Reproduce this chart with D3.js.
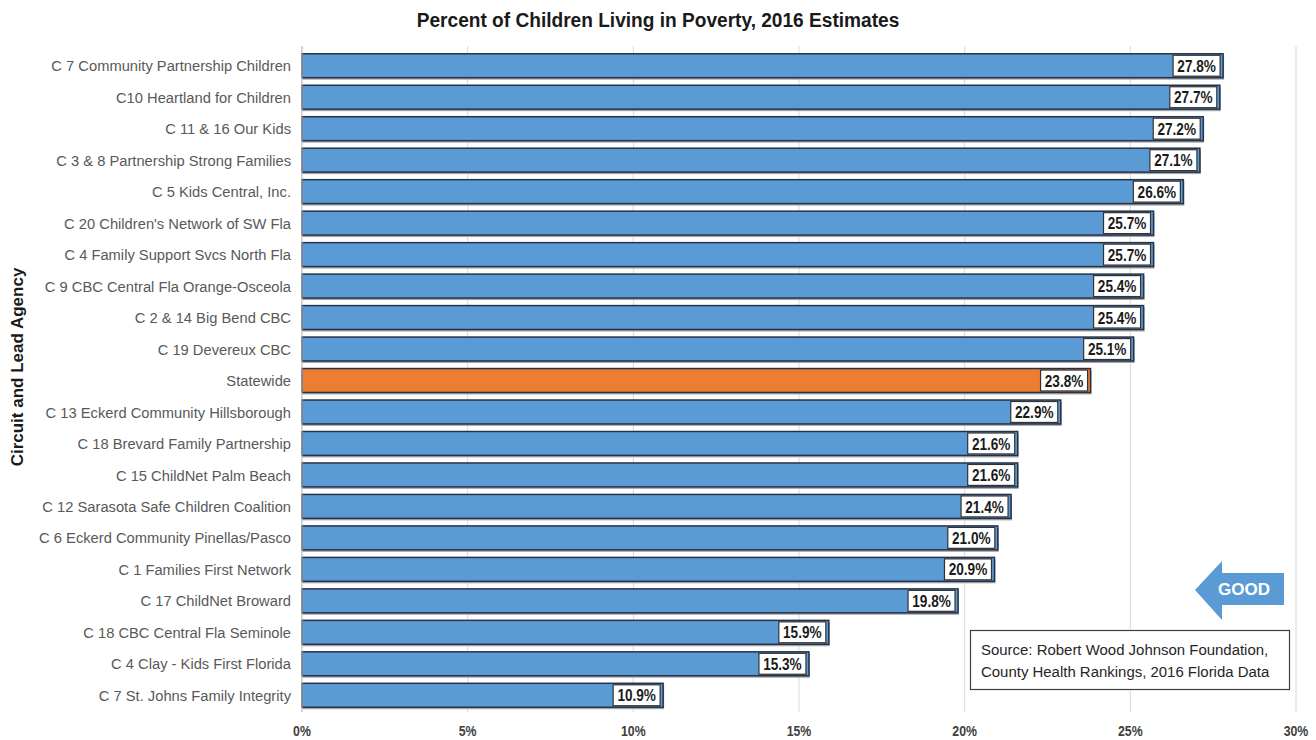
<!DOCTYPE html>
<html><head><meta charset="utf-8">
<script src="https://cdn.jsdelivr.net/npm/d3@7"></script>
<style>
body{margin:0;background:#fff;}
svg text{font-family:"Liberation Sans Narrow","Arial Narrow","Liberation Sans",Arial,sans-serif;}
</style></head>
<body><svg id="c" width="1316" height="740"></svg>
<script>
const categories = [
"C 7 Community Partnership Children","C10 Heartland for Children","C 11 & 16 Our Kids",
"C 3 & 8 Partnership Strong Families","C 5 Kids Central, Inc.","C 20 Children's Network of SW Fla",
"C 4 Family Support Svcs North Fla","C 9 CBC Central Fla Orange-Osceola","C 2 & 14 Big Bend CBC",
"C 19 Devereux CBC","Statewide","C 13 Eckerd Community Hillsborough","C 18 Brevard Family Partnership",
"C 15 ChildNet Palm Beach","C 12 Sarasota Safe Children Coalition","C 6 Eckerd Community Pinellas/Pasco",
"C 1 Families First Network","C 17 ChildNet Broward","C 18 CBC Central Fla Seminole",
"C 4 Clay - Kids First Florida","C 7 St. Johns Family Integrity"];
const values = [27.8,27.7,27.2,27.1,26.6,25.7,25.7,25.4,25.4,25.1,23.8,22.9,21.6,21.6,21.4,21.0,20.9,19.8,15.9,15.3,10.9];
const tickValues = [0,5,10,15,20,25,30];
const title = "Percent of Children Living in Poverty, 2016 Estimates";
const yTitle = "Circuit and Lead Agency";
const sourceLines = ["Source: Robert Wood Johnson Foundation,","County Health Rankings, 2016 Florida Data"];
const highlight = "Statewide";

const svg = d3.select("#c");
const x = d3.scaleLinear().domain([0,30]).range([302,1296]);
const y = d3.scaleBand().domain(categories).range([50,711]).paddingInner(0.24).paddingOuter(0.12);

svg.append("g").selectAll("line").data(tickValues).join("line")
  .attr("x1",d=>x(d)).attr("x2",d=>x(d)).attr("y1",46).attr("y2",712)
  .attr("stroke","#d9d9d9").attr("stroke-width",1);

const bw = y.bandwidth();
svg.append("g").selectAll("rect").data(values).join("rect")
  .attr("x",x(0)).attr("y",(d,i)=>y(categories[i])+2)
  .attr("width",d=>x(d)-x(0)+1).attr("height",bw)
  .attr("fill","#a6a6a6");
svg.append("g").selectAll("rect").data(values).join("rect")
  .attr("x",x(0)).attr("y",(d,i)=>y(categories[i]))
  .attr("width",d=>x(d)-x(0)).attr("height",bw)
  .attr("fill",(d,i)=>categories[i]===highlight?"#ed7d31":"#5b9bd5")
  .attr("stroke","#26324a").attr("stroke-width",1.5);

const lg = svg.append("g");
values.forEach((v,i)=>{
  const t = v.toFixed(1)+"%";
  const bx = x(v)-3, yy=y(categories[i]);
  const w = 47;
  lg.append("rect").attr("x",bx-w).attr("y",yy+1.5).attr("width",w).attr("height",bw-3)
    .attr("fill","#fff").attr("stroke","#333").attr("stroke-width",1.2);
  lg.append("text").attr("transform",`translate(${bx-w/2},${yy+bw/2}) scale(0.8,1)`).attr("dy","0.36em")
    .attr("text-anchor","middle").attr("font-size",17).attr("font-weight","bold").attr("fill","#1a1a1a").text(t);
});

svg.append("g").selectAll("text").data(categories).join("text")
  .attr("transform",d=>`translate(291,${y(d)+bw/2}) scale(0.95,1)`).attr("dy","0.36em").attr("text-anchor","end")
  .attr("font-size",15.5).attr("fill","#595959").text(d=>d);

svg.append("g").selectAll("text").data(tickValues).join("text")
  .attr("transform",d=>`translate(${x(d)},731) scale(0.85,1)`).attr("dy","0.36em").attr("text-anchor","middle")
  .attr("font-size",14.5).attr("font-weight","bold").attr("fill","#404040").text(d=>d+"%");

svg.append("line").attr("x1",x(0)).attr("x2",x(0)).attr("y1",46).attr("y2",712).attr("stroke","#bfbfbf");

svg.append("text").attr("transform","translate(658,19) scale(0.91,1)").attr("dy","0.36em").attr("text-anchor","middle")
  .attr("font-size",21).attr("font-weight","bold").attr("fill","#1a1a1a").text(title);

svg.append("text").attr("transform","translate(17,367) rotate(-90)").attr("text-anchor","middle").attr("dy","0.36em")
  .attr("font-size",17).attr("font-weight","bold").attr("fill","#1a1a1a").text(yTitle);

const ax=1195, ay=590;
svg.append("path").attr("d",`M${ax},${ay} L${ax+27},${ay-29} L${ax+27},${ay-17} L${ax+89},${ay-17} L${ax+89},${ay+15} L${ax+27},${ay+15} L${ax+27},${ay+30} Z`)
  .attr("fill","#5b9bd5");
svg.append("text").attr("x",1244).attr("y",589).attr("dy","0.36em").attr("text-anchor","middle")
  .attr("font-size",17).attr("font-weight","bold").attr("fill","#fff").text("GOOD");

svg.append("rect").attr("x",970.5).attr("y",630.5).attr("width",319).attr("height",59)
  .attr("fill","#fff").attr("stroke","#404040").attr("stroke-width",1.2);
svg.append("g").selectAll("text").data(sourceLines).join("text")
  .attr("transform",(d,i)=>`translate(981,${649+i*22}) scale(0.965,1)`).attr("dy","0.36em")
  .attr("font-size",15.5).attr("fill","#262626").text(d=>d);
</script></body></html>
